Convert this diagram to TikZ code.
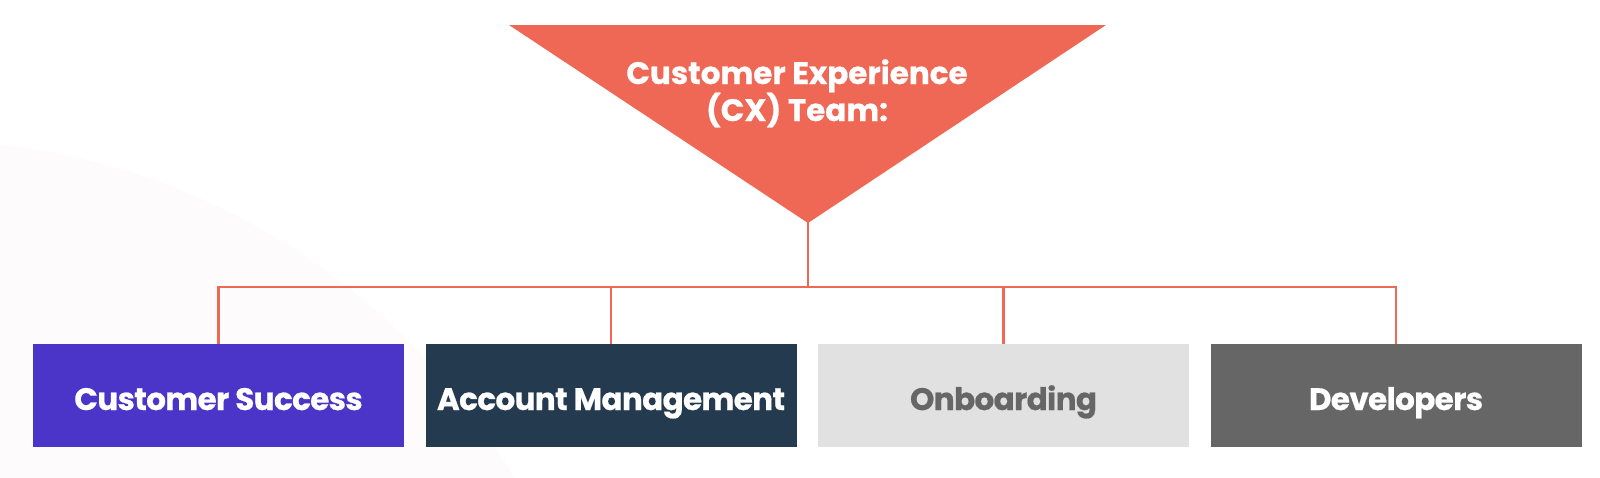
\documentclass[tikz,border=0pt]{standalone}
\usepackage{fontspec}
\setmainfont{Poppins}[BoldFeatures={FakeBold=0.6}]
\newfontfamily\boxfont{Poppins}[BoldFeatures={FakeBold=0.6,LetterSpace=-2}]
\definecolor{coral}{HTML}{EE6855}
\definecolor{cspurple}{HTML}{4B35C8}
\definecolor{amnavy}{HTML}{243A4F}
\definecolor{oblight}{HTML}{E1E1E1}
\definecolor{devgray}{HTML}{666666}
\definecolor{bgblush}{HTML}{FDFBFC}
\begin{document}
\begin{tikzpicture}[x=0.5pt,y=-0.5pt,
  box/.style={draw=none,rectangle,minimum width=185.5pt,minimum height=51.5pt,inner sep=0pt},
  lbl/.style={anchor=base,font=\fontsize{15.5}{18.5}\selectfont\bfseries,inner sep=0pt},
  boxlbl/.style={lbl,font=\boxfont\fontsize{15.5}{18.5}\selectfont\bfseries},
  wire/.style={draw=coral,line width=1.25pt}]
\useasboundingbox (0,0) rectangle (1600,477);
\fill[white] (0,0) rectangle (1600,477);
\begin{scope}
\clip (0,0) rectangle (1600,477);
\fill[bgblush] (-75,825) circle[radius=342pt];
\end{scope}
% triangle
\fill[coral] (509,25) -- (1106,25) -- (808,223) -- cycle;
\coordinate (apex) at (808,222);
\coordinate (hub) at (808,287);
\node[lbl,text=white,align=center] (title) at (797,121) {Customer Experience\\(CX) Team:};
% boxes
\node[box,fill=cspurple] (b1) at (218.5,395.5) {};
\node[box,fill=amnavy] (b2) at (611,395.5) {};
\node[box,fill=oblight] (b3) at (1003.5,395.5) {};
\node[box,fill=devgray] (b4) at (1396,395.5) {};
\node[boxlbl,text=white] (t1) at (218.5,410) {Customer Success};
\node[boxlbl,text=white] (t2) at (611,410) {Account Management};
\node[boxlbl,text=devgray] (t3) at (1003.5,410) {Onboarding};
\node[boxlbl,text=white] (t4) at (1396,410) {Developers};
% connectors
\draw[wire] (apex) -- (hub);
\draw[wire] (hub) -| (b1.north);
\draw[wire] (hub) -| (b4.north);
\draw[wire] (b2.north) -- (b2.north |- hub);
\draw[wire] (b3.north) -- (b3.north |- hub);
\end{tikzpicture}
\end{document}
